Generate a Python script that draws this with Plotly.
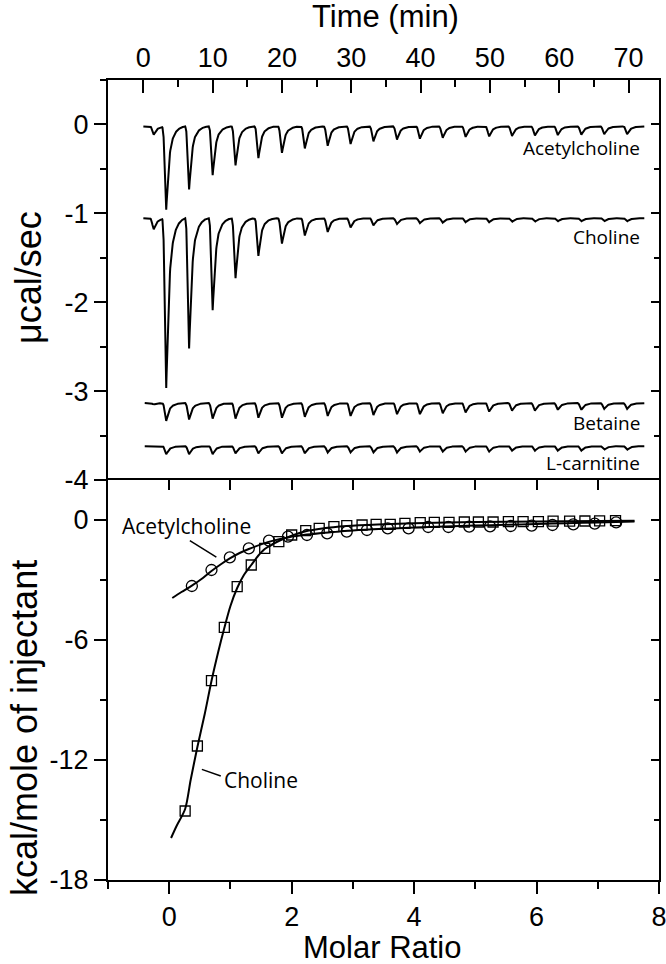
import numpy as np
import plotly.graph_objects as go

# ---------------- data: top panel (raw ITC thermograms) ----------------
inj_times = [3.3, 6.6, 10.0, 13.3, 16.6, 20.0, 23.3, 26.6, 29.9, 33.2, 36.6,
             39.9, 43.2, 46.5, 49.9, 53.2, 56.5, 59.8, 63.2, 66.5, 69.8]
first_inj_time = 1.5

acetyl_base = -0.022
acetyl_first = -0.115
acetyl_peaks = [-0.956, -0.73, -0.57, -0.46, -0.38, -0.32, -0.27, -0.24, -0.22, -0.19,
                -0.17, -0.16, -0.15, -0.14, -0.135, -0.13, -0.125, -0.12, -0.115, -0.11, -0.11]

choline_base = -1.055
choline_first = -1.18
choline_peaks = [-2.96, -2.52, -2.09, -1.73, -1.48, -1.34, -1.25, -1.21, -1.16, -1.135,
                 -1.12, -1.11, -1.105, -1.10, -1.10, -1.095, -1.095, -1.09, -1.09, -1.09, -1.09]

betaine_base = -3.135
betaine_first = -3.15
betaine_peaks = [-3.335, -3.32, -3.31, -3.31, -3.30, -3.30, -3.29, -3.28, -3.28, -3.27,
                 -3.26, -3.26, -3.25, -3.24, -3.23, -3.22, -3.22, -3.21, -3.21, -3.20, -3.20]

carnitine_base = -3.62
carnitine_first = -3.62
carnitine_peaks = [-3.71, -3.71, -3.71, -3.70, -3.70, -3.70, -3.70, -3.69, -3.69, -3.69,
                   -3.69, -3.68, -3.68, -3.68, -3.68, -3.67, -3.67, -3.67, -3.67, -3.66, -3.66]

# peak shape (style): time offset from minimum (min) and fraction of depth
shape_dt = [-0.55, -0.4, -0.25, -0.1, 0.0, 0.1, 0.25, 0.4, 0.6, 0.85, 1.2, 1.6, 2.1, 2.7]
shape_fr = [0.0, 0.08, 0.4, 0.85, 1.0, 0.85, 0.6, 0.42, 0.28, 0.17, 0.09, 0.045, 0.015, 0.0]

# ---------------- data: bottom panel (integrated heats) ----------------
acetyl_ratio = [0.37, 0.69, 0.99, 1.30, 1.63, 1.94, 2.25, 2.58, 2.90, 3.23, 3.57,
                3.91, 4.23, 4.56, 4.90, 5.24, 5.58, 5.92, 6.26, 6.60, 6.95, 7.30]
acetyl_heat = [-3.3, -2.5, -1.87, -1.42, -1.03, -0.83, -0.75, -0.67, -0.58, -0.5, -0.42,
               -0.42, -0.35, -0.35, -0.33, -0.32, -0.30, -0.28, -0.25, -0.22, -0.18, -0.12]
acetyl_fit_x = [0.05, 0.2, 0.37, 0.55, 0.69, 0.85, 0.99, 1.15, 1.30, 1.5, 1.7, 1.94, 2.25,
                2.6, 3.0, 3.5, 4.0, 4.5, 5.0, 5.5, 6.0, 6.5, 7.0, 7.6]
acetyl_fit_y = [-3.9, -3.6, -3.28, -2.9, -2.55, -2.2, -1.92, -1.65, -1.45, -1.22, -1.03,
                -0.87, -0.73, -0.62, -0.52, -0.44, -0.38, -0.33, -0.28, -0.24, -0.2, -0.16,
                -0.12, -0.08]

choline_ratio = [0.26, 0.46, 0.69, 0.90, 1.11, 1.34, 1.56, 1.79, 2.00, 2.23, 2.45, 2.69,
                 2.90, 3.15, 3.38, 3.61, 3.85, 4.10, 4.33, 4.57, 4.82, 5.05, 5.29, 5.54,
                 5.78, 6.03, 6.27, 6.54, 6.79, 7.03, 7.29]
choline_heat = [-14.55, -11.3, -8.03, -5.37, -3.33, -2.25, -1.42, -1.08, -0.75, -0.53,
                -0.42, -0.33, -0.28, -0.25, -0.22, -0.22, -0.17, -0.13, -0.12, -0.12,
                -0.10, -0.10, -0.10, -0.08, -0.08, -0.08, -0.06, -0.06, -0.05, -0.04, -0.03]
choline_fit_x = [0.03, 0.12, 0.26, 0.35, 0.46, 0.58, 0.69, 0.8, 0.9, 1.0, 1.11, 1.22, 1.34,
                 1.45, 1.56, 1.68, 1.79, 2.0, 2.23, 2.5, 2.9, 3.4, 4.0, 5.0, 6.0, 7.0, 7.6]
choline_fit_y = [-15.9, -15.3, -14.45, -13.0, -11.35, -9.7, -8.05, -6.6, -5.4, -4.3, -3.4,
                 -2.75, -2.25, -1.8, -1.45, -1.22, -1.05, -0.78, -0.56, -0.42, -0.3, -0.22,
                 -0.16, -0.1, -0.07, -0.05, -0.04]

top_labels = ["Acetylcholine", "Choline", "Betaine", "L-carnitine"]
top_label_y = [-0.27, -1.27, -3.36, -3.81]

time_ticks = [0, 10, 20, 30, 40, 50, 60, 70]
ucal_ticks = [0, -1, -2, -3, -4]
ratio_ticks = [0, 2, 4, 6, 8]
kcal_ticks = [0, -6, -12, -18]


def thermogram(base, first, peaks, t0, t1):
    t = np.union1d(np.arange(t0, t1, 0.04), np.array(inj_times + [first_inj_time]))
    y = np.full_like(t, base, dtype=float)
    for ti, pk in zip([first_inj_time] + inj_times, [first] + peaks):
        y += (pk - base) * np.interp(t - ti, shape_dt, shape_fr, left=0.0, right=0.0)
    return t, y


fig = go.Figure()
line_style = dict(color="black", width=2)
for base, first, peaks, t0 in [(acetyl_base, acetyl_first, acetyl_peaks, 0.0),
                               (choline_base, choline_first, choline_peaks, 0.0),
                               (betaine_base, betaine_first, betaine_peaks, 0.2),
                               (carnitine_base, carnitine_first, carnitine_peaks, 0.2)]:
    t, y = thermogram(base, first, peaks, t0, 72.3)
    fig.add_trace(go.Scatter(x=t, y=y, mode="lines", line=line_style,
                             xaxis="x", yaxis="y", showlegend=False, hoverinfo="skip"))

# bottom panel
fig.add_trace(go.Scatter(x=acetyl_fit_x, y=acetyl_fit_y, mode="lines",
                         line=dict(color="black", width=2, shape="spline", smoothing=0.8),
                         xaxis="x2", yaxis="y2", showlegend=False))
fig.add_trace(go.Scatter(x=choline_fit_x, y=choline_fit_y, mode="lines",
                         line=dict(color="black", width=2, shape="spline", smoothing=0.8),
                         xaxis="x2", yaxis="y2", showlegend=False))
fig.add_trace(go.Scatter(x=acetyl_ratio, y=acetyl_heat, mode="markers",
                         marker=dict(symbol="circle-open", size=11, color="black",
                                     line=dict(width=1.3, color="black")),
                         xaxis="x2", yaxis="y2", showlegend=False))
fig.add_trace(go.Scatter(x=choline_ratio, y=choline_heat, mode="markers",
                         marker=dict(symbol="square-open", size=10, color="black",
                                     line=dict(width=1.3, color="black")),
                         xaxis="x2", yaxis="y2", showlegend=False))

W, H = 666, 964
PW, PH = 551, 800
L, T = 108, 80
R = W - L - PW
B = H - T - PH
TICKFONT = dict(family="Liberation Sans, Arial, sans-serif", size=27, color="black")

common = dict(showline=True, linewidth=2, linecolor="black", showgrid=False,
              zeroline=False, tickwidth=2, tickcolor="black", tickfont=TICKFONT,
              automargin=False)


def labels(vals):
    return [str(v) for v in vals]


fig.update_layout(
    width=W, height=H,
    margin=dict(l=L, r=R, t=T, b=B),
    paper_bgcolor="white", plot_bgcolor="white",
    showlegend=False,
    xaxis=dict(domain=[0, 1], anchor="y", side="top", range=[-5.1, 74.4],
               tickvals=time_ticks, ticktext=labels(time_ticks), ticks="inside", ticklen=13,
               minor=dict(dtick=5, tick0=0, ticks="inside", ticklen=7, tickwidth=2,
                          tickcolor="black"), **common),
    yaxis=dict(domain=[0.5, 1], anchor="x", range=[-4, 0.5], tickvals=ucal_ticks,
               ticktext=labels(ucal_ticks), ticks="outside", ticklen=12,
               minor=dict(dtick=0.5, tick0=0, ticks="outside", ticklen=6, tickwidth=2,
                          tickcolor="black"), **common),
    yaxis3=dict(overlaying="y", side="right", anchor="x", range=[-4, 0.5],
                tickvals=ucal_ticks, ticks="inside", ticklen=8, showticklabels=False,
                minor=dict(dtick=0.5, tick0=0, ticks="inside", ticklen=5, tickwidth=2,
                           tickcolor="black"), **common),
    xaxis2=dict(domain=[0, 1], anchor="y2", range=[-1, 8], tickvals=ratio_ticks,
                ticktext=labels(ratio_ticks), ticks="outside", ticklen=12,
                ticklabeloverflow="allow",
                minor=dict(dtick=1, tick0=0, ticks="outside", ticklen=7, tickwidth=2,
                           tickcolor="black"), **common),
    xaxis3=dict(overlaying="x2", side="top", anchor="y2", range=[-1, 8], dtick=1, tick0=0,
                ticks="inside", ticklen=10, showticklabels=False, **common),
    yaxis2=dict(domain=[0, 0.5], anchor="x2", range=[-18, 2], tickvals=kcal_ticks,
                ticktext=labels(kcal_ticks), ticks="outside", ticklen=12,
                minor=dict(tickvals=[-3, -9, -15], ticks="outside", ticklen=6, tickwidth=2,
                           tickcolor="black"), **common),
    yaxis4=dict(overlaying="y2", side="right", anchor="x2", range=[-18, 2],
                tickvals=kcal_ticks, ticks="inside", ticklen=8, showticklabels=False,
                minor=dict(tickvals=[-3, -9, -15], ticks="inside", ticklen=5, tickwidth=2,
                           tickcolor="black"), **common),
)
# invisible traces so the overlay axes render
fig.add_trace(go.Scatter(x=[None], y=[None], xaxis="x", yaxis="y3", showlegend=False))
fig.add_trace(go.Scatter(x=[None], y=[None], xaxis="x3", yaxis="y4", showlegend=False))


def px_x(p):
    return (p - L) / PW


def px_y(p):
    return (T + PH - p) / PH


XTITLE = dict(family="Liberation Sans, Arial, sans-serif", size=31, color="black")
YTITLE = dict(family="Liberation Sans, Arial, sans-serif", size=36, color="black")
fig.add_annotation(text="Time (min)", xref="paper", yref="paper", x=px_x(385), y=px_y(17),
                   showarrow=False, font=XTITLE, xanchor="center", yanchor="middle")
fig.add_annotation(text="Molar Ratio", xref="paper", yref="paper", x=px_x(382), y=px_y(947),
                   showarrow=False, font=XTITLE, xanchor="center", yanchor="middle")
fig.add_annotation(text="μcal/sec", xref="paper", yref="paper", x=px_x(28), y=px_y(278),
                   showarrow=False, font=YTITLE, textangle=-90,
                   xanchor="center", yanchor="middle")
fig.add_annotation(text="kcal/mole of injectant", xref="paper", yref="paper",
                   x=px_x(24), y=px_y(728), showarrow=False, font=YTITLE, textangle=-90,
                   xanchor="center", yanchor="middle")

LABELFONT = dict(family="Open Sans, sans-serif", size=19, color="black")
for txt, yy in zip(top_labels, top_label_y):
    fig.add_annotation(text=txt, x=71.9, y=yy, xref="x", yref="y", showarrow=False,
                       xanchor="right", yanchor="middle", font=LABELFONT)

LABELFONT2 = dict(family="Open Sans, sans-serif", size=21, color="black")
fig.add_annotation(text="Acetylcholine", x=0.285, y=-0.3, xref="x2", yref="y2",
                   showarrow=False, xanchor="center", yanchor="middle", font=LABELFONT2)
fig.add_annotation(text="Choline", x=0.87, y=-13.0, xref="x2", yref="y2",
                   showarrow=False, xanchor="left", yanchor="middle", font=LABELFONT2)
fig.add_shape(type="line", xref="x2", yref="y2", x0=0.337, y0=-1.03, x1=0.77, y1=-1.86,
              line=dict(color="black", width=1.5))
fig.add_shape(type="line", xref="x2", yref="y2", x0=0.533, y0=-12.47, x1=0.842, y1=-12.8,
              line=dict(color="black", width=1.5))

# remove the default 8px page margin so the 666x964 figure fills the window exactly
fig.write_html("out.html", config={"displayModeBar": False},
               post_script="document.body.style.margin='0';")
